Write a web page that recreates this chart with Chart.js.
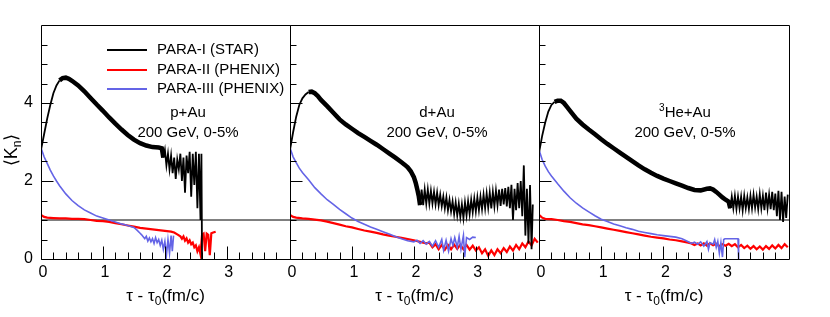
<!DOCTYPE html>
<html>
<head>
<meta charset="utf-8">
<script src="https://cdn.jsdelivr.net/npm/chart.js@4.4.1/dist/chart.umd.min.js"></script>
<style>
  html, body { margin: 0; padding: 0; background: #fff; }
  #wrap { position: relative; width: 830px; height: 317px; }
  #wrap canvas { position: absolute; left: 0; top: 0; }
</style>
</head>
<body>
<div id="wrap">
  <canvas id="c1" width="830" height="317"></canvas>
  <canvas id="c2" width="830" height="317"></canvas>
  <canvas id="c3" width="830" height="317"></canvas>
</div>
<script>
// ---- data ----
const seriesNames = ['PARA-I (STAR)', 'PARA-II (PHENIX)', 'PARA-III (PHENIX)'];
const systems = ['p+Au', 'd+Au', 'He+Au'];
const energyLabel = '200 GeV, 0-5%';
const xTickLabels = [0, 1, 2, 3];
const yTickLabels = [0, 2, 4];
const refLineX = [0, 4.02];
const refLineY = [1, 1];

// p+Au
const p1BlackX = [0,0.05,0.1,0.15,0.2,0.25,0.3,0.35,0.4,0.45, 0.5,0.6,0.7,0.8,0.9,1.0,1.1,1.2,1.3,1.4, 1.5,1.6,1.7,1.8,1.9,1.95,
  1.975,2.0,2.025,2.05,2.075,2.1,2.125,2.15,2.175,2.2, 2.225,2.25,2.275,2.3,2.325,2.35,2.375,2.4,2.425,2.45, 2.475,2.5,2.525,2.55,2.575,2.59,2.6];
const p1BlackY = [2.8,3.2,3.6,3.95,4.25,4.45,4.58,4.64,4.65,4.62, 4.57,4.45,4.3,4.13,3.96,3.8,3.63,3.47,3.32,3.18, 3.06,2.97,2.91,2.87,2.86,2.84,
  2.6,2.8,2.4,2.7,2.3,2.65,2.2,2.6,2.05,2.55, 2.3,2.7,2.0,2.6,1.7,2.65,2.2,2.75,1.6,2.7, 1.9,2.75,1.3,2.7,1.0,2.7,0];
const p1RedX = [0,0.05,0.1,0.2,0.3,0.4,0.5,0.6,0.7,0.8, 0.9,1.0,1.1,1.2,1.3,1.4,1.5,1.6,1.7,1.8, 1.9,2.0,2.1,2.15,2.2,2.25,2.275,2.3,2.325,2.35,
  2.375,2.4,2.425,2.45,2.475,2.5,2.525,2.55,2.575,2.6, 2.625,2.65,2.675,2.7,2.725,2.75,2.78,2.82];
const p1RedY = [1.13,1.08,1.06,1.05,1.04,1.04,1.03,1.03,1.02,1.0, 0.98,0.97,0.95,0.92,0.89,0.86,0.83,0.8,0.78,0.76, 0.74,0.72,0.7,0.68,0.63,0.58,0.52,0.58,0.47,0.53,
  0.42,0.48,0.38,0.42,0.3,0.35,0.2,0.3,0.12,0.62, 0.65,0.2,0.65,0.62,0.1,0.66,0.68,0.7];
const p1BlueX = [0,0.05,0.1,0.15,0.2,0.25,0.3,0.4,0.5,0.6, 0.7,0.8,0.9,1.0,1.1,1.2,1.3,1.4,1.5,1.55, 1.6,1.625,1.65,1.675,1.7,1.725,1.75,1.775,1.8,1.825,
  1.85,1.875,1.9,1.925,1.95,1.975,2.0,2.025,2.05,2.075, 2.1,2.12,2.14];
const p1BlueY = [2.85,2.62,2.45,2.28,2.13,2.0,1.88,1.67,1.5,1.37, 1.26,1.18,1.1,1.05,1.0,0.95,0.9,0.86,0.81,0.74, 0.66,0.62,0.57,0.52,0.58,0.46,0.54,0.44,0.52,0.4,
  0.55,0.42,0.5,0.35,0.48,0.25,0.45,0.1,0.5,0.15, 0.6,0.2,0.6];

// d+Au
const p2BlackX = [0,0.05,0.1,0.15,0.2,0.25,0.3,0.35,0.4,0.45, 0.5,0.6,0.7,0.8,0.9,1.0,1.1,1.2,1.3,1.4, 1.5,1.6,1.7,1.8,1.85,1.9,1.95,2.0,2.03,2.06, 2.08,
  2.1,2.125,2.15,2.175,2.2,2.225,2.25,2.275,2.3,2.325, 2.35,2.375,2.4,2.425,2.45,2.475,2.5,2.525,2.55,2.575,
  2.6,2.625,2.65,2.675,2.7,2.725,2.75,2.775,2.8,2.825, 2.85,2.875,2.9,2.925,2.95,2.975,3.0,3.025,3.05,3.075,
  3.1,3.125,3.15,3.175,3.2,3.225,3.25,3.275,3.3,3.325, 3.35,3.375,3.4,3.425,3.45,3.475,3.5,3.525,3.55,3.575,
  3.6,3.625,3.65,3.675,3.7,3.725,3.75,3.775,3.8,3.825, 3.85,3.875,3.9,3.92];
const p2BlackY = [2.8,3.25,3.65,3.95,4.12,4.22,4.28,4.29,4.25,4.18, 4.08,3.92,3.75,3.58,3.45,3.34,3.23,3.13,3.03,2.93, 2.82,2.71,2.6,2.48,2.42,2.35,2.25,2.1,1.95,1.75, 1.6,
  1.38,1.78,1.38,1.78,1.42,1.78,1.42,1.75,1.42,1.72, 1.4,1.7,1.38,1.65,1.35,1.6,1.3,1.58,1.25,1.52,
  1.22,1.48,1.15,1.45,1.12,1.42,1.08,1.4,1.05,1.45, 1.12,1.48,1.15,1.52,1.2,1.55,1.22,1.58,1.25,1.6,
  1.28,1.65,1.3,1.68,1.32,1.7,1.3,1.72,1.35,1.75, 1.38,1.78,1.36,1.8,1.4,1.82,1.35,1.85,1.3,1.9,
  1.0,1.8,1.25,1.95,1.3,2.0,1.1,2.4,0.6,1.8, 0.4,1.9,0.25,1.4];
const p2RedX = [0,0.05,0.1,0.2,0.3,0.4,0.5,0.6,0.7,0.8, 0.9,1.0,1.1,1.2,1.3,1.4,1.5,1.6,1.7,1.8, 1.9,2.0,2.1,2.2,2.25,2.3,2.35,2.4,2.45,2.5,
  2.55,2.6,2.65,2.7,2.75,2.8,2.85,2.9,2.95,3.0, 3.05,3.1,3.15,3.2,3.25,3.3,3.35,3.4,3.45,3.5, 3.55,3.6,3.65,3.7,3.75,3.8,3.85,3.9,3.95,4.0];
const p2RedY = [1.13,1.08,1.06,1.04,1.03,1.01,0.99,0.96,0.92,0.88, 0.84,0.81,0.77,0.73,0.7,0.67,0.63,0.6,0.57,0.54, 0.51,0.48,0.44,0.4,0.42,0.3,0.38,0.25,0.36,0.24,
  0.36,0.25,0.37,0.26,0.37,0.25,0.36,0.24,0.34,0.22, 0.3,0.15,0.25,0.08,0.22,0.1,0.25,0.15,0.28,0.18, 0.32,0.22,0.36,0.25,0.4,0.3,0.45,0.35,0.52,0.42];
const p2BlueX = [0,0.05,0.1,0.15,0.2,0.3,0.4,0.5,0.6,0.7, 0.8,0.9,1.0,1.1,1.2,1.3,1.4,1.5,1.6,1.7, 1.8,1.9,2.0,2.05,2.1,2.15,2.2,2.25,2.3,2.35,
  2.4,2.45,2.48,2.52,2.56,2.6,2.63,2.66,2.7,2.73, 2.76,2.8,2.82,2.85,2.9,2.95,3.0];
const p2BlueY = [2.85,2.62,2.47,2.33,2.22,2.03,1.83,1.67,1.52,1.4, 1.27,1.16,1.05,0.96,0.89,0.82,0.76,0.7,0.64,0.58, 0.52,0.47,0.44,0.48,0.4,0.47,0.38,0.45,0.33,0.47,
  0.3,0.5,0.22,0.48,0.2,0.52,0.35,0.55,0.3,0.58, 0.25,0.6,0.05,0.55,0.5,0.56,0.55];

// 3He+Au
const p3BlackX = [0,0.05,0.1,0.15,0.2,0.25,0.3,0.35,0.4,0.45, 0.5,0.6,0.7,0.8,0.9,1.0,1.1,1.2,1.3,1.4, 1.5,1.6,1.7,1.8,1.9,2.0,2.1,2.2,2.3,2.4,
  2.5,2.6,2.7,2.75,2.8,2.85,2.9,2.95,3.0,3.05, 3.075,3.1,3.125,3.15,3.175,3.2,3.225,3.25,3.275,3.3,
  3.325,3.35,3.375,3.4,3.425,3.45,3.475,3.5,3.525,3.55, 3.575,3.6,3.625,3.65,3.675,3.7,3.725,3.75,3.775,3.8,
  3.825,3.85,3.875,3.9,3.925,3.95,3.975,4.0];
const p3BlackY = [2.72,3.15,3.5,3.78,3.95,4.03,4.06,4.06,4.0,3.9, 3.8,3.6,3.45,3.32,3.2,3.07,2.95,2.84,2.73,2.62, 2.51,2.4,2.3,2.21,2.13,2.06,2.0,1.94,1.88,1.82,
  1.77,1.76,1.8,1.81,1.78,1.72,1.65,1.58,1.52,1.47, 1.3,1.6,1.3,1.62,1.28,1.6,1.3,1.6,1.25,1.62,
  1.3,1.58,1.28,1.62,1.3,1.65,1.32,1.6,1.28,1.66, 1.3,1.62,1.25,1.7,1.3,1.65,1.28,1.72,1.25,1.68,
  1.1,1.75,1.0,1.72,0.95,1.6,1.05,1.65];
const p3RedX = [0,0.05,0.1,0.2,0.3,0.4,0.5,0.6,0.7,0.8, 0.9,1.0,1.1,1.2,1.3,1.4,1.5,1.6,1.7,1.8, 1.9,2.0,2.1,2.2,2.3,2.4,2.45,2.5,2.55,2.6,
  2.65,2.7,2.75,2.8,2.85,2.9,2.95,3.0,3.05,3.1, 3.15,3.2,3.25,3.3,3.35,3.4,3.45,3.5,3.55,3.6, 3.65,3.7,3.75,3.8,3.85,3.9,3.95,4.0];
const p3RedY = [1.13,1.06,1.03,1.02,1.0,0.97,0.95,0.92,0.89,0.87, 0.84,0.81,0.78,0.75,0.72,0.69,0.66,0.63,0.6,0.57, 0.55,0.53,0.5,0.48,0.45,0.42,0.4,0.36,0.4,0.35,
  0.4,0.34,0.4,0.35,0.39,0.33,0.38,0.34,0.39,0.33, 0.38,0.3,0.36,0.28,0.34,0.26,0.33,0.25,0.32,0.24, 0.33,0.26,0.35,0.27,0.36,0.28,0.38,0.3];
const p3BlueX = [0,0.05,0.1,0.15,0.2,0.3,0.4,0.5,0.6,0.7, 0.8,0.9,1.0,1.1,1.2,1.3,1.4,1.5,1.6,1.7, 1.8,1.9,2.0,2.1,2.2,2.3,2.4,2.45,2.5,2.55,
  2.6,2.65,2.7,2.725,2.75,2.8,2.825,2.85,2.875,2.9, 2.925,2.95,2.97,2.99,3.1,3.2,3.21];
const p3BlueY = [2.8,2.55,2.38,2.24,2.13,1.93,1.74,1.57,1.43,1.31, 1.21,1.11,1.02,0.96,0.9,0.85,0.8,0.76,0.71,0.68, 0.65,0.62,0.6,0.58,0.56,0.52,0.44,0.4,0.43,0.38,
  0.44,0.33,0.45,0.25,0.42,0.38,0.5,0.3,0.45,0.15, 0.42,0.05,0.5,0.52,0.52,0.52,0.0];

// ---- drawing ----
const FONT = '"Liberation Sans", Arial, Helvetica, sans-serif';
const BLACK = '#000000', RED = '#ff0000', BLUE = '#6464e6';
Chart.defaults.font.family = FONT;
Chart.defaults.color = '#000';

function pts(xs, ys) {
  return xs.map((x, i) => ({ x: x, y: ys[i] }));
}

function drawRuns(ctx, runs, cx, y) {
  // runs: [text, fontSize, dy]
  let total = 0;
  runs.forEach(r => { ctx.font = r[1] + 'px ' + FONT; total += ctx.measureText(r[0]).width; });
  let x = cx - total / 2;
  ctx.textAlign = 'left';
  runs.forEach(r => {
    ctx.font = r[1] + 'px ' + FONT;
    ctx.fillText(r[0], x, y + r[2]);
    x += ctx.measureText(r[0]).width;
  });
}

const panels = [
  { id: 'c1', left: 41, right: 290, black: [p1BlackX, p1BlackY], red: [p1RedX, p1RedY], blue: [p1BlueX, p1BlueY],
    thickFrom: 0.3, thinFrom: 1.96, sys: systems[0], labelX: 188 },
  { id: 'c2', left: 290, right: 539, black: [p2BlackX, p2BlackY], red: [p2RedX, p2RedY], blue: [p2BlueX, p2BlueY],
    thickFrom: 0.28, thinFrom: 2.09, sys: systems[1], labelX: 437 },
  { id: 'c3', left: 539, right: 789, black: [p3BlackX, p3BlackY], red: [p3RedX, p3RedY], blue: [p3BlueX, p3BlueY],
    thickFrom: 0.25, thinFrom: 3.06, sys: systems[2], labelX: 685 }
];

panels.forEach((p, k) => {
  const first = k === 0;
  const deco = {
    id: 'deco' + k,
    afterDraw(chart) {
      const { ctx, chartArea: a, scales } = chart;
      const xs = scales.x, ys = scales.y;
      ctx.save();
      ctx.strokeStyle = '#000';
      ctx.lineWidth = 1;
      const L = Math.round(a.left) + 0.5, R = Math.round(a.right) + 0.5;
      const T = Math.round(a.top) + 0.5, B = Math.round(a.bottom) + 0.5;
      ctx.beginPath();
      ctx.rect(L, T, R - L, B - T);
      for (let i = 0; i < 20; i++) {
        const px = Math.round(xs.getPixelForValue(i / 5)) + 0.5;
        const len = i % 5 === 0 ? 13 : 7;
        ctx.moveTo(px, B); ctx.lineTo(px, B - len);
      }
      for (let i = 0; i < 12; i++) {
        const py = Math.round(ys.getPixelForValue(i / 2)) + 0.5;
        const len = i % 4 === 0 ? 12 : 6;
        ctx.moveTo(L, py); ctx.lineTo(L + len, py);
      }
      ctx.stroke();

      ctx.fillStyle = '#000';
      ctx.textBaseline = 'alphabetic';
      // x title
      drawRuns(ctx, [['\u03c4 - \u03c4', 17, 0], ['0', 12, 4], ['(fm/c)', 17, 0]], (a.left + a.right) / 2, 301);

      // system label
      ctx.textBaseline = 'middle';
      if (k === 2) {
        drawRuns(ctx, [['3', 10, -5], [p.sys, 15, 0]], p.labelX, 113);
      } else {
        drawRuns(ctx, [[p.sys, 15, 0]], p.labelX, 113);
      }
      drawRuns(ctx, [[energyLabel, 15, 0]], p.labelX, 133);

      if (first) {
        // legend
        const cols = [BLACK, RED, BLUE];
        const rows = [50, 70, 89];
        seriesNames.forEach((name, i) => {
          ctx.strokeStyle = cols[i];
          ctx.lineWidth = 2;
          ctx.beginPath();
          ctx.moveTo(107, rows[i]); ctx.lineTo(147, rows[i]);
          ctx.stroke();
          ctx.font = '15px ' + FONT;
          ctx.textAlign = 'left';
          ctx.fillText(name, 157, rows[i]);
        });
        // y title
        ctx.save();
        ctx.translate(17, 150);
        ctx.rotate(-Math.PI / 2);
        ctx.textBaseline = 'alphabetic';
        drawRuns(ctx, [['\u27e8K', 18, 0], ['n', 12, 4], ['\u27e9', 18, 0]], 0, 0);
        ctx.restore();
      }
      ctx.restore();
    }
  };

  const blackSeg = {
    borderWidth: c => (c.p0.parsed.x >= p.thickFrom && c.p0.parsed.x < p.thinFrom) ? 4.5 : 1.8
  };

  new Chart(document.getElementById(p.id), {
    type: 'line',
    data: {
      datasets: [
        { data: pts(p.black[0], p.black[1]), borderColor: BLACK, borderWidth: 1.8, segment: blackSeg },
        { data: pts(p.blue[0], p.blue[1]), borderColor: BLUE, borderWidth: 1.6 },
        { data: pts(p.red[0], p.red[1]), borderColor: RED, borderWidth: 2.2 },
        { data: pts(refLineX, refLineY), borderColor: BLACK, borderWidth: 1 }
      ]
    },
    options: {
      responsive: false,
      animation: false,
      devicePixelRatio: 1,
      elements: { point: { radius: 0 }, line: { tension: 0 } },
      layout: { padding: { left: first ? 0 : p.left, right: 830 - p.right, top: 25, bottom: 28 } },
      plugins: { legend: { display: false }, tooltip: { enabled: false } },
      scales: {
        x: {
          type: 'linear', min: 0, max: 4.02,
          grid: { display: false, drawTicks: false },
          border: { display: false },
          ticks: {
            stepSize: 1, autoSkip: false, maxRotation: 0, padding: 4, labelOffset: 2,
            font: { size: 16 }, color: '#000',
            callback: v => xTickLabels.includes(v) ? String(v) : ''
          },
          afterFit: s => { s.height = 30; }
        },
        y: {
          type: 'linear', min: 0, max: 6, display: first,
          grid: { display: false, drawTicks: false },
          border: { display: false },
          ticks: {
            stepSize: 2, padding: 8, font: { size: 16 }, color: '#000',
            callback: v => yTickLabels.includes(v) ? String(v) : ''
          },
          afterFit: s => { s.width = first ? 41 : 0; }
        }
      }
    },
    plugins: [deco]
  });
});
</script>
</body>
</html>
